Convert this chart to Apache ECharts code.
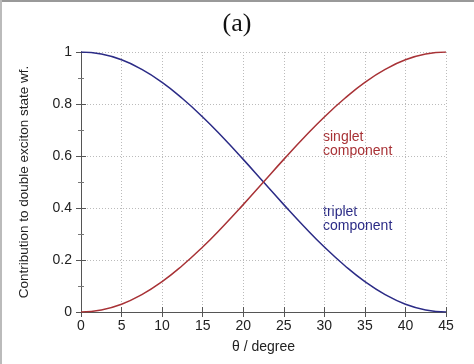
<!DOCTYPE html>
<html><head><meta charset="utf-8">
<script src="https://cdn.jsdelivr.net/npm/echarts@6/dist/echarts.min.js"></script>
<style>html,body{margin:0;padding:0;background:#fff}#c{width:474px;height:364px}</style>
</head><body><div id="c"></div>
<script>
var theta = [0, 2.5, 5, 7.5, 10, 12.5, 15, 17.5, 20, 22.5, 25, 27.5, 30, 32.5, 35, 37.5, 40, 42.5, 45];
var singlet = [0, 0.008, 0.03, 0.067, 0.117, 0.179, 0.25, 0.329, 0.413, 0.5, 0.587, 0.671, 0.75, 0.821, 0.883, 0.933, 0.97, 0.992, 1];
var triplet = [1, 0.992, 0.97, 0.933, 0.883, 0.821, 0.75, 0.671, 0.587, 0.5, 0.413, 0.329, 0.25, 0.179, 0.117, 0.067, 0.03, 0.008, 0];
var xTicks = [0, 5, 10, 15, 20, 25, 30, 35, 40, 45];
var yTicks = [0, 0.2, 0.4, 0.6, 0.8, 1];

var chart = echarts.init(document.getElementById('c'), null, {renderer: 'canvas'});
var font = 'Liberation Sans, Arial, sans-serif';
var axisLine = {show: true, lineStyle: {color: '#555', width: 1}};
function pairs(y) { return theta.map(function (t, i) { return [t, y[i]]; }); }
chart.setOption({
  animation: false,
  title: {text: '(a)', left: 'center', top: 6,
    textStyle: {fontFamily: 'Liberation Serif, serif', fontSize: 26, fontWeight: 'normal', color: '#111'}},
  grid: {left: 81, right: 28, top: 52, bottom: 52},
  xAxis: [{
    type: 'value', min: 0, max: 45, interval: 5, position: 'bottom',
    name: 'θ / degree', nameLocation: 'middle', nameGap: 28,
    nameTextStyle: {fontFamily: font, fontSize: 14, color: '#222'},
    axisLine: axisLine,
    axisTick: {show: true, inside: true, length: 5, lineStyle: {color: '#555'}},
    axisLabel: {fontFamily: font, fontSize: 14, color: '#222', margin: 7,
      formatter: function (v) { return xTicks.indexOf(v) >= 0 ? String(v) : ''; }},
    splitLine: {show: true, lineStyle: {color: '#bbb', type: [1, 2], width: 1}}
  }, {
    type: 'value', min: 0, max: 45, interval: 5, position: 'top',
    axisLine: axisLine,
    axisTick: {show: true, inside: true, length: 5, lineStyle: {color: '#555'}},
    axisLabel: {show: false}, splitLine: {show: false}
  }],
  yAxis: [{
    type: 'value', min: 0, max: 1, interval: 0.2, position: 'left',
    name: 'Contribution to double exciton state wf.', nameLocation: 'middle', nameGap: 50,
    nameTextStyle: {fontFamily: font, fontSize: 13.5, color: '#222'},
    axisLine: axisLine,
    axisTick: {show: true, inside: true, length: 5, lineStyle: {color: '#555'}},
    minorTick: {show: true, splitNumber: 2, length: 3, lineStyle: {color: '#777'}},
    axisLabel: {fontFamily: font, fontSize: 14, color: '#222', margin: 9,
      formatter: function (v) { var r = Math.round(v * 10) / 10; return yTicks.indexOf(r) >= 0 ? String(r) : ''; }},
    splitLine: {show: true, lineStyle: {color: '#bbb', type: [1, 2], width: 1}}
  }, {
    type: 'value', min: 0, max: 1, interval: 0.2, position: 'right',
    axisLine: axisLine,
    axisTick: {show: true, inside: true, length: 5, lineStyle: {color: '#555'}},
    minorTick: {show: true, splitNumber: 2, length: 3, lineStyle: {color: '#777'}},
    axisLabel: {show: false}, splitLine: {show: false}
  }],
  series: [{
    name: 'triplet', type: 'line', smooth: true, showSymbol: false,
    data: pairs(triplet), lineStyle: {color: '#2b2b86', width: 1.5}
  }, {
    name: 'singlet', type: 'line', smooth: true, showSymbol: false,
    data: pairs(singlet), lineStyle: {color: '#a83236', width: 1.5}
  }],
  graphic: [
    {type: 'rect', left: 0, top: 0, shape: {width: 474, height: 2}, style: {fill: '#999'}},
    {type: 'rect', left: 0, top: 0, shape: {width: 2, height: 364}, style: {fill: '#bbb'}},
    {type: 'text', left: 323, top: 130, style: {text: 'singlet\ncomponent', fill: '#a83236', font: '14px Liberation Sans, Arial, sans-serif', lineHeight: 14}},
    {type: 'text', left: 323, top: 205, style: {text: 'triplet\ncomponent', fill: '#2b2b86', font: '14px Liberation Sans, Arial, sans-serif', lineHeight: 14}}
  ]
});
</script></body></html>
